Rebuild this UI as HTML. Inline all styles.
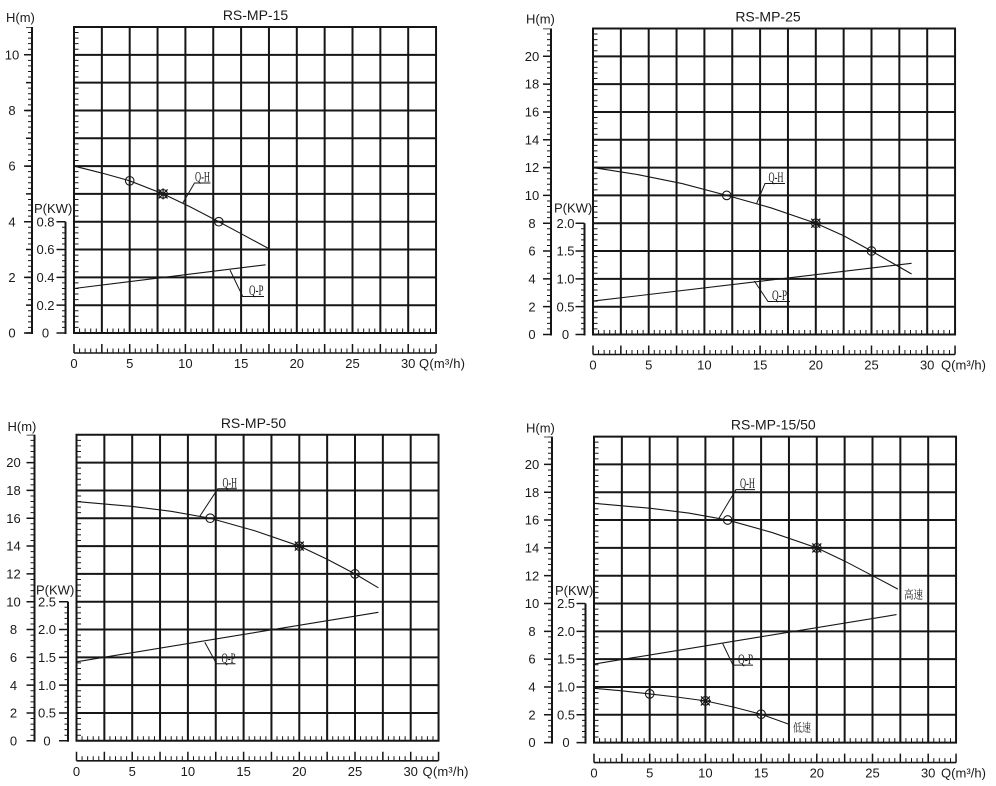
<!DOCTYPE html>
<html><head><meta charset="utf-8"><style>
html,body{margin:0;padding:0;background:#fff;}
svg{display:block;}
text{font-family:"Liberation Sans",sans-serif;fill:#1a1a1a;}
.s{font-family:"Liberation Serif","Noto Serif CJK SC",serif;}
.c{font-family:"Liberation Serif","Noto Serif CJK SC",serif;}
</style></head><body>
<svg width="996" height="786" viewBox="0 0 996 786" xmlns="http://www.w3.org/2000/svg">
<defs>
<g id="b" stroke="#161616" fill="none">
 <path stroke-width="2" d="M0 0V306M27.85 0V306M55.7 0V306M83.55 0V306M111.4 0V306M139.25 0V306M167.1 0V306M194.95 0V306M222.8 0V306M250.65 0V306M278.5 0V306M306.35 0V306M334.2 0V306M362.05 0V306M-1 0H363M0 27.82H362.05M0 55.64H362.05M0 83.46H362.05M0 111.28H362.05M0 139.1H362.05M0 166.92H362.05M0 194.74H362.05M0 222.56H362.05M0 250.38H362.05M0 278.2H362.05M-1 306H363"/>
 <line x1="2.5" y1="306.5" x2="2.5" y2="0" stroke-width="4" stroke-dasharray="1 4.564"/>
 <line x1="-0.5" y1="303.5" x2="362" y2="303.5" stroke-width="4" stroke-dasharray="1 4.57"/>
 <line x1="0" y1="326" x2="362.05" y2="326" stroke-width="1.6"/>
 <line x1="-0.5" y1="323.5" x2="363" y2="323.5" stroke-width="4" stroke-dasharray="1 4.57"/>
 <line x1="-0.75" y1="321.5" x2="363" y2="321.5" stroke-width="9" stroke-dasharray="1.5 26.35"/>
 <line x1="-42" y1="0" x2="-42" y2="307" stroke-width="2"/>
 <line x1="-44.5" y1="306.5" x2="-44.5" y2="0" stroke-width="3" stroke-dasharray="1 4.564"/>
</g>
<g id="mc"><circle r="4.3" fill="none" stroke="#161616" stroke-width="1.1"/></g>
<g id="ms" stroke="#161616"><circle r="4.3" fill="none" stroke-width="1.1"/><path d="M-4.5 -4.5L4.5 4.5M-4.5 4.5L4.5 -4.5M-5.5 0H5.5M0 -5.5V5.5" stroke-width="1.2"/></g>
</defs>

<!-- ============ TOP LEFT ============ -->
<g transform="translate(74,27)">
 <use href="#b"/>
 <g stroke="#161616" fill="none">
  <line x1="-45" y1="306.75" x2="-45" y2="0" stroke-width="6" stroke-dasharray="1.5 26.32"/>
  <line x1="-46" y1="306.75" x2="-46" y2="0" stroke-width="8" stroke-dasharray="1.5 54.14"/>
  <line x1="-8.5" y1="194.74" x2="-8.5" y2="307" stroke-width="2"/>
  <line x1="-10.5" y1="306.5" x2="-10.5" y2="194.74" stroke-width="3" stroke-dasharray="1 4.564"/>
  <line x1="-13" y1="306.75" x2="-13" y2="193.5" stroke-width="9" stroke-dasharray="1.5 26.32"/>
  <polyline stroke-width="1.1" points="0,139.08 27.85,146.03 55.7,153.82 89.12,166.9 116.97,180.25 144.82,194.72 167.1,206.68 193.84,221.15"/>
  <line stroke-width="1.1" x1="0" y1="261.5" x2="191.6" y2="237.8"/>
  <path stroke-width="1" d="M136.5 156H120.5L108.7 176.3M190 269.5H168.7L156 243"/>
 </g>
 <use href="#mc" x="55.7" y="153.8"/><use href="#ms" x="89.1" y="166.9"/><use href="#mc" x="144.8" y="194.7"/>
 <text class="s" x="121" y="154.5" font-size="14.5" textLength="15" lengthAdjust="spacingAndGlyphs">Q-H</text>
 <text class="s" x="175" y="268" font-size="14.5" textLength="14.5" lengthAdjust="spacingAndGlyphs">Q-P</text>
 <text x="181.5" y="-7" font-size="14" text-anchor="middle">RS-MP-15</text>
 <text x="-68" y="-5" font-size="13">H(m)</text>
 <text x="-40" y="186" font-size="13">P(KW)</text>
 <g font-size="13" text-anchor="middle">
  <text x="-62" y="310.6">0</text><text x="-62" y="255">2</text><text x="-62" y="199.3">4</text><text x="-62" y="143.7">6</text><text x="-62" y="88">8</text><text x="-62" y="32.4">10</text>
  <text x="-28.5" y="310.6">0</text><text x="-28.5" y="282.8">0.2</text><text x="-28.5" y="255">0.4</text><text x="-28.5" y="227.1">0.6</text><text x="-28.5" y="199.3">0.8</text>
  <text x="0" y="341">0</text><text x="55.7" y="341">5</text><text x="111.4" y="341">10</text><text x="167.1" y="341">15</text><text x="222.8" y="341">20</text><text x="278.5" y="341">25</text><text x="334.2" y="341">30</text>
 </g>
 <text x="345" y="341" font-size="13" textLength="46">Q(m³/h)</text>
</g>

<!-- ============ TOP RIGHT ============ -->
<g transform="translate(593,28.5)">
 <use href="#b"/>
 <g stroke="#161616" fill="none">
  <line x1="-46" y1="306.75" x2="-46" y2="0" stroke-width="8" stroke-dasharray="1.5 26.32"/>
  <line x1="-8.5" y1="194.74" x2="-8.5" y2="307" stroke-width="2"/>
  <line x1="-10.5" y1="306.5" x2="-10.5" y2="194.74" stroke-width="3" stroke-dasharray="1 4.564"/>
  <line x1="-13" y1="306.75" x2="-13" y2="193.5" stroke-width="9" stroke-dasharray="1.5 26.32"/>
  <polyline stroke-width="1.1" points="0,139.08 44.56,146.03 89.12,155.08 133.68,166.9 178.24,179.42 222.8,194.72 250.65,207.24 278.5,222.54 318.6,245.5"/>
  <line stroke-width="1.1" x1="0" y1="272.6" x2="318.6" y2="234.8"/>
  <path stroke-width="1" d="M192 155H172L163.7 174.8M197 273H175L161.3 252.5"/>
 </g>
 <use href="#mc" x="133.7" y="166.9"/><use href="#ms" x="222.8" y="194.7"/><use href="#mc" x="278.5" y="222.5"/>
 <text class="s" x="175.5" y="153.5" font-size="14.5" textLength="15" lengthAdjust="spacingAndGlyphs">Q-H</text>
 <text class="s" x="179" y="271.5" font-size="14.5" textLength="15" lengthAdjust="spacingAndGlyphs">Q-P</text>
 <text x="175" y="-7" font-size="14" text-anchor="middle">RS-MP-25</text>
 <text x="-67" y="-5" font-size="13">H(m)</text>
 <text x="-39" y="184" font-size="13">P(KW)</text>
 <g font-size="13" text-anchor="middle">
  <text x="-61" y="310.6">0</text><text x="-61" y="282.8">2</text><text x="-61" y="255">4</text><text x="-61" y="227.1">6</text><text x="-61" y="199.3">8</text><text x="-61" y="171.5">10</text><text x="-61" y="143.7">12</text><text x="-61" y="115.9">14</text><text x="-61" y="88">16</text><text x="-61" y="60.2">18</text><text x="-61" y="32.4">20</text>
  <text x="-27.5" y="310.6">0</text><text x="-27.5" y="282.8">0.5</text><text x="-27.5" y="255">1.0</text><text x="-27.5" y="227.1">1.5</text><text x="-27.5" y="199.3">2.0</text>
  <text x="0" y="341">0</text><text x="55.7" y="341">5</text><text x="111.4" y="341">10</text><text x="167.1" y="341">15</text><text x="222.8" y="341">20</text><text x="278.5" y="341">25</text><text x="334.2" y="341">30</text>
 </g>
 <text x="348" y="341" font-size="13" textLength="45">Q(m³/h)</text>
</g>

<!-- ============ BOTTOM LEFT ============ -->
<g transform="translate(76.5,434.8)">
 <use href="#b"/>
 <g stroke="#161616" fill="none">
  <line x1="-46" y1="306.75" x2="-46" y2="0" stroke-width="8" stroke-dasharray="1.5 26.32"/>
  <line x1="-8.5" y1="166.92" x2="-8.5" y2="307" stroke-width="2"/>
  <line x1="-10.5" y1="306.5" x2="-10.5" y2="166.92" stroke-width="3" stroke-dasharray="1 4.564"/>
  <line x1="-13" y1="306.75" x2="-13" y2="165.7" stroke-width="9" stroke-dasharray="1.5 26.32"/>
  <polyline stroke-width="1.1" points="0,66.75 55.7,71.62 94.69,76.48 133.68,83.44 178.24,95.96 222.8,111.26 250.65,124.47 278.5,139.08 301.9,152.99"/>
  <line stroke-width="1.1" x1="0" y1="227" x2="301.9" y2="177.5"/>
  <path stroke-width="1" d="M160.3 54H141.3L123.3 81.5M159 229H140L128.3 207.5"/>
 </g>
 <use href="#mc" x="133.7" y="83.4"/><use href="#ms" x="222.8" y="111.3"/><use href="#mc" x="278.5" y="139.1"/>
 <text class="s" x="146" y="52.5" font-size="14.5" textLength="14.5" lengthAdjust="spacingAndGlyphs">Q-H</text>
 <text class="s" x="145" y="228" font-size="14.5" textLength="14" lengthAdjust="spacingAndGlyphs">Q-P</text>
 <text x="177" y="-7" font-size="14" text-anchor="middle">RS-MP-50</text>
 <text x="-69" y="-4" font-size="13">H(m)</text>
 <text x="-40.5" y="159.5" font-size="13">P(KW)</text>
 <g font-size="13" text-anchor="middle">
  <text x="-63" y="310.6">0</text><text x="-63" y="282.8">2</text><text x="-63" y="255">4</text><text x="-63" y="227.1">6</text><text x="-63" y="199.3">8</text><text x="-63" y="171.5">10</text><text x="-63" y="143.7">12</text><text x="-63" y="115.9">14</text><text x="-63" y="88">16</text><text x="-63" y="60.2">18</text><text x="-63" y="32.4">20</text>
  <text x="-29.5" y="310.6">0</text><text x="-29.5" y="282.8">0.5</text><text x="-29.5" y="255">1.0</text><text x="-29.5" y="227.1">1.5</text><text x="-29.5" y="199.3">2.0</text><text x="-29.5" y="171.5">2.5</text>
  <text x="0" y="341">0</text><text x="55.7" y="341">5</text><text x="111.4" y="341">10</text><text x="167.1" y="341">15</text><text x="222.8" y="341">20</text><text x="278.5" y="341">25</text><text x="334.2" y="341">30</text>
 </g>
 <text x="346" y="341" font-size="13" textLength="46">Q(m³/h)</text>
</g>

<!-- ============ BOTTOM RIGHT ============ -->
<g transform="translate(594,436.6)">
 <use href="#b"/>
 <g stroke="#161616" fill="none">
  <line x1="-46" y1="306.75" x2="-46" y2="0" stroke-width="8" stroke-dasharray="1.5 26.32"/>
  <line x1="-8.5" y1="166.92" x2="-8.5" y2="307" stroke-width="2"/>
  <line x1="-10.5" y1="306.5" x2="-10.5" y2="166.92" stroke-width="3" stroke-dasharray="1 4.564"/>
  <line x1="-13" y1="306.75" x2="-13" y2="165.7" stroke-width="9" stroke-dasharray="1.5 26.32"/>
  <polyline stroke-width="1.1" points="0,66.75 55.7,71.62 94.69,76.48 133.68,83.44 178.24,95.96 222.8,111.26 250.65,124.47 278.5,139.08 303.9,152.5"/>
  <line stroke-width="1.1" x1="0" y1="227.5" x2="302.5" y2="178"/>
  <polyline stroke-width="1.1" points="0,251.75 27.85,254.25 55.7,257.31 83.55,260.51 111.4,264.27 139.25,270.39 167.1,277.62 194.95,287.64"/>
  <path stroke-width="1" d="M161 53H142L125 81.5M159 228.5H139L128.7 207"/>
 </g>
 <use href="#mc" x="133.7" y="83.4"/><use href="#ms" x="222.8" y="111.3"/>
 <use href="#mc" x="55.7" y="257.3"/><use href="#ms" x="111.4" y="264.3"/><use href="#mc" x="167.1" y="277.6"/>
 <text class="s" x="146" y="51.5" font-size="14.5" textLength="15" lengthAdjust="spacingAndGlyphs">Q-H</text>
 <text class="s" x="144" y="227.5" font-size="14.5" textLength="15" lengthAdjust="spacingAndGlyphs">Q-P</text>
 <text class="c" x="310" y="162" font-size="11.5" textLength="19" lengthAdjust="spacingAndGlyphs">高速</text>
 <text class="c" x="199" y="295" font-size="11.5" textLength="18" lengthAdjust="spacingAndGlyphs">低速</text>
 <text x="179.3" y="-7" font-size="14" text-anchor="middle">RS-MP-15/50</text>
 <text x="-68" y="-4" font-size="13">H(m)</text>
 <text x="-39" y="158.5" font-size="13">P(KW)</text>
 <g font-size="13" text-anchor="middle">
  <text x="-62" y="310.6">0</text><text x="-62" y="282.8">2</text><text x="-62" y="255">4</text><text x="-62" y="227.1">6</text><text x="-62" y="199.3">8</text><text x="-62" y="171.5">10</text><text x="-62" y="143.7">12</text><text x="-62" y="115.9">14</text><text x="-62" y="88">16</text><text x="-62" y="60.2">18</text><text x="-62" y="32.4">20</text>
  <text x="-28" y="310.6">0</text><text x="-28" y="282.8">0.5</text><text x="-28" y="255">1.0</text><text x="-28" y="227.1">1.5</text><text x="-28" y="199.3">2.0</text><text x="-28" y="171.5">2.5</text>
  <text x="0" y="341">0</text><text x="55.7" y="341">5</text><text x="111.4" y="341">10</text><text x="167.1" y="341">15</text><text x="222.8" y="341">20</text><text x="278.5" y="341">25</text><text x="334.2" y="341">30</text>
 </g>
 <text x="347" y="341" font-size="13" textLength="45">Q(m³/h)</text>
</g>
</svg>
</body></html>
